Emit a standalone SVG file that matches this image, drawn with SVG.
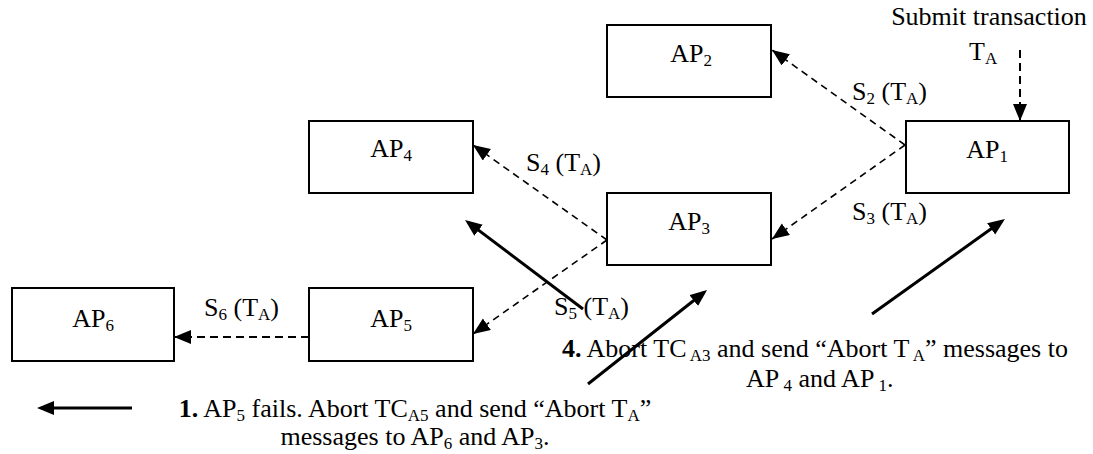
<svg xmlns="http://www.w3.org/2000/svg" width="1093" height="454" viewBox="0 0 1093 454">
<style>
.box{fill:#fff;stroke:#000;stroke-width:2}
.t{font-family:"Liberation Serif","Times New Roman",serif;font-size:26px;fill:#000}
.s{font-size:17px}
.b{font-weight:bold}
.d{stroke:#000;stroke-width:1.6;stroke-dasharray:7 5;fill:none}
.dh{stroke:#000;stroke-width:2;stroke-dasharray:8 5;fill:none}
.sol{stroke:#000;stroke-width:3;fill:none}
</style>
<defs>
<marker id="ah" markerUnits="userSpaceOnUse" markerWidth="20" markerHeight="20" refX="17" refY="7" orient="auto"><path d="M0,0 L17,7 L0,14 z" fill="#000"/></marker>
<marker id="ahs" markerUnits="userSpaceOnUse" markerWidth="20" markerHeight="20" refX="13" refY="7" orient="auto"><path d="M0,0 L17,7 L0,14 z" fill="#000"/></marker>
</defs>
<g id="connectors">
<line class="dh" x1="1020" y1="50" x2="1020" y2="121" marker-end="url(#ah)"/>
<line class="d" x1="905" y1="145" x2="772" y2="50" marker-end="url(#ah)"/>
<line class="d" x1="905" y1="145" x2="772" y2="239" marker-end="url(#ah)"/>
<line class="d" x1="607" y1="240" x2="473" y2="145" marker-end="url(#ah)"/>
<line class="d" x1="607" y1="240" x2="473" y2="334" marker-end="url(#ah)"/>
<line class="dh" x1="309" y1="337" x2="174" y2="337" marker-end="url(#ah)"/>
<line class="sol" x1="583" y1="309" x2="468.2" y2="222.4" marker-end="url(#ahs)"/>
<line class="sol" x1="588" y1="384" x2="703.9" y2="292.5" marker-end="url(#ahs)"/>
<line class="sol" x1="872" y1="314" x2="1001.7" y2="221.3" marker-end="url(#ahs)"/>
<line class="sol" x1="132" y1="408" x2="41" y2="408" marker-end="url(#ahs)"/>
<text class="t" x="852" y="100">S<tspan class="s" dy="4">2</tspan><tspan dy="-4"> (T</tspan><tspan class="s" dy="4">A</tspan><tspan dy="-4">)</tspan></text>
<text class="t" x="852" y="220">S<tspan class="s" dy="4">3</tspan><tspan dy="-4"> (T</tspan><tspan class="s" dy="4">A</tspan><tspan dy="-4">)</tspan></text>
<text class="t" x="526" y="171">S<tspan class="s" dy="4">4</tspan><tspan dy="-4"> (T</tspan><tspan class="s" dy="4">A</tspan><tspan dy="-4">)</tspan></text>
<text class="t" x="554" y="315">S<tspan class="s" dy="4">5</tspan><tspan dy="-4"> (T</tspan><tspan class="s" dy="4">A</tspan><tspan dy="-4">)</tspan></text>
<text class="t" x="204" y="316">S<tspan class="s" dy="4">6</tspan><tspan dy="-4"> (T</tspan><tspan class="s" dy="4">A</tspan><tspan dy="-4">)</tspan></text>
</g>
<g id="submit">
<text class="t" x="989" y="25" text-anchor="middle">Submit transaction</text>
<text class="t" x="969" y="60">T<tspan class="s" dy="4">A</tspan></text>
</g>
<g id="AP1"><rect class="box" x="906" y="121" width="163" height="72"/><text class="t" x="987" y="158" text-anchor="middle">AP<tspan class="s" dy="4">1</tspan></text></g>
<g id="AP2"><rect class="box" x="607" y="25" width="164" height="72"/><text class="t" x="691" y="62" text-anchor="middle">AP<tspan class="s" dy="4">2</tspan></text></g>
<g id="AP3"><rect class="box" x="607" y="193" width="164" height="72"/><text class="t" x="689" y="230" text-anchor="middle">AP<tspan class="s" dy="4">3</tspan></text></g>
<g id="AP4"><rect class="box" x="309" y="121" width="164" height="72"/><text class="t" x="391" y="157" text-anchor="middle">AP<tspan class="s" dy="4">4</tspan></text></g>
<g id="AP5"><rect class="box" x="309" y="288" width="164" height="73"/><text class="t" x="391" y="327" text-anchor="middle">AP<tspan class="s" dy="4">5</tspan></text></g>
<g id="AP6"><rect class="box" x="12" y="288" width="162" height="73"/><text class="t" x="93" y="327" text-anchor="middle">AP<tspan class="s" dy="4">6</tspan></text></g>
<g id="note1">
<text class="t" x="415" y="417" text-anchor="middle"><tspan class="b">1.</tspan> AP<tspan class="s" dy="4">5</tspan><tspan dy="-4"> fails. Abort TC</tspan><tspan class="s" dy="4">A5</tspan><tspan dy="-4"> and send “Abort T</tspan><tspan class="s" dy="4">A</tspan><tspan dy="-4">”</tspan></text>
<text class="t" x="415" y="445" text-anchor="middle">messages to AP<tspan class="s" dy="4">6</tspan><tspan dy="-4"> and AP</tspan><tspan class="s" dy="4">3</tspan><tspan dy="-4">.</tspan></text>
</g>
<g id="note4">
<text class="t" x="562" y="357"><tspan class="b">4.</tspan> Abort TC<tspan class="s" dy="4"> A3</tspan><tspan dy="-4"> and send “Abort T</tspan><tspan class="s" dy="4"> A</tspan><tspan dy="-4">” messages to</tspan></text>
<text class="t" x="746" y="387">AP<tspan class="s" dy="4"> 4</tspan><tspan dy="-4"> and AP</tspan><tspan class="s" dy="4"> 1</tspan><tspan dy="-4">.</tspan></text>
</g>
</svg>
